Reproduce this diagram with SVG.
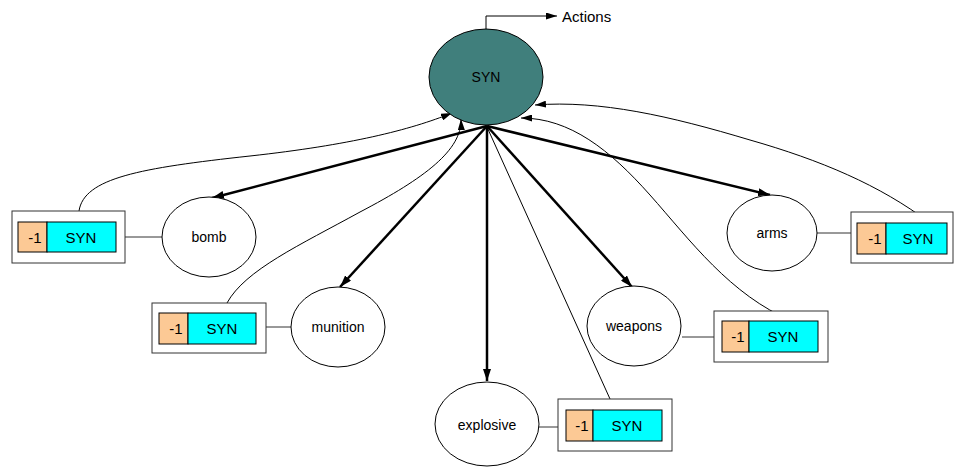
<svg xmlns="http://www.w3.org/2000/svg" width="955" height="468" viewBox="0 0 955 468">
  <defs>
    <marker id="headBig" viewBox="0 0 12 8" refX="12" refY="4" markerWidth="12" markerHeight="8" markerUnits="userSpaceOnUse" orient="auto">
      <path d="M0,0 L12,4 L0,8 Z" fill="#000"/>
    </marker>
    <marker id="headSmall" viewBox="0 0 11 7" refX="11" refY="3.5" markerWidth="11" markerHeight="7" markerUnits="userSpaceOnUse" orient="auto">
      <path d="M0,0 L11,3.5 L0,7 Z" fill="#000"/>
    </marker>
    <style>
      .lbl { font-family: "Liberation Sans", Arial, sans-serif; font-size: 14px; fill: #000; text-anchor: middle; dominant-baseline: central; }
      .unit { font-size: 15px; }
      .node { fill: #fff; stroke: #000; stroke-width: 1; }
      .hub { fill: #407f7c; stroke: #000; stroke-width: 1; }
      .frame { fill: #fff; stroke: #333; stroke-width: 1; }
      .neg { fill: #fcc995; stroke: #000; stroke-width: 1; }
      .syn { fill: #00ffff; stroke: #000; stroke-width: 1; }
      .thick { fill: none; stroke: #000; stroke-width: 2.5; marker-end: url(#headBig); }
      .thin { fill: none; stroke: #000; stroke-width: 1; }
      .back { fill: none; stroke: #000; stroke-width: 1; marker-end: url(#headSmall); }
      .tie { stroke: #333; stroke-width: 1; }
    </style>
  </defs>

  <!-- connectors -->
  <g id="connectors">
    <!-- output to Actions -->
    <path class="thin" d="M486,29 V16 H557" marker-end="url(#headSmall)"/>
    <!-- hub to words -->
    <line class="thick" x1="487" y1="126" x2="212" y2="198"/>
    <line class="thick" x1="487" y1="126" x2="340" y2="287"/>
    <line class="thick" x1="487" y1="126" x2="487" y2="381"/>
    <line class="thick" x1="487" y1="126" x2="632" y2="287"/>
    <line class="thick" x1="487" y1="126" x2="770" y2="195"/>
    <!-- feedback from SYN units to hub -->
    <path class="back" d="M79,211 C84,178 140,168 250,156 C350,145 410,130 452,113"/>
    <path class="back" d="M227,303 C245,270 300,245 360,212 C425,178 462,150 461,119"/>
    <path class="thin" d="M615,410 L487,127"/>
    <path class="back" d="M792,321 C730,295 690,240 650,195 C610,150 570,118 521,118"/>
    <path class="back" d="M930,223 C880,185 820,160 750,140 C670,116 600,100 535,105"/>
    <!-- word to unit ties -->
    <line class="tie" x1="125" y1="237" x2="163" y2="237"/>
    <line class="tie" x1="266" y1="327" x2="291" y2="327"/>
    <line class="tie" x1="539" y1="427" x2="558" y2="427"/>
    <line class="tie" x1="682" y1="337" x2="714" y2="337"/>
    <line class="tie" x1="817" y1="233" x2="851" y2="233"/>
  </g>

  <g id="hub">
    <ellipse class="hub" cx="486" cy="77" rx="57" ry="48"/>
    <text class="lbl" x="486" y="77">SYN</text>
  </g>

  <g id="actions">
    <text class="lbl" x="562" y="16" style="text-anchor:start;font-size:15px">Actions</text>
  </g>

  <g id="bomb">
    <ellipse class="node" cx="209" cy="237" rx="47" ry="40"/>
    <text class="lbl" x="209" y="237">bomb</text>
  </g>
  <g id="munition">
    <ellipse class="node" cx="338" cy="327" rx="47" ry="40"/>
    <text class="lbl" x="338" y="327">munition</text>
  </g>
  <g id="explosive">
    <ellipse class="node" cx="487" cy="424" rx="52" ry="42"/>
    <text class="lbl" x="487" y="425">explosive</text>
  </g>
  <g id="weapons">
    <ellipse class="node" cx="634" cy="326" rx="47" ry="40"/>
    <text class="lbl" x="634" y="326">weapons</text>
  </g>
  <g id="arms">
    <ellipse class="node" cx="772" cy="233" rx="45" ry="38"/>
    <text class="lbl" x="772" y="233">arms</text>
  </g>

  <g id="unit-bomb">
    <rect class="frame" x="12" y="211" width="113" height="52"/>
    <rect class="neg" x="18" y="222" width="29" height="30"/>
    <rect class="syn" x="47" y="222" width="69" height="30"/>
    <text class="lbl unit" x="35" y="237">-1</text>
    <text class="lbl unit" x="81" y="237">SYN</text>
  </g>
  <g id="unit-munition">
    <rect class="frame" x="152" y="303" width="114" height="50"/>
    <rect class="neg" x="159" y="313" width="29" height="31"/>
    <rect class="syn" x="188" y="313" width="68" height="31"/>
    <text class="lbl unit" x="176" y="328">-1</text>
    <text class="lbl unit" x="222" y="328">SYN</text>
  </g>
  <g id="unit-explosive">
    <rect class="frame" x="558" y="399" width="114" height="52"/>
    <rect class="neg" x="566" y="410" width="27" height="31"/>
    <rect class="syn" x="593" y="410" width="69" height="31"/>
    <text class="lbl unit" x="582" y="425">-1</text>
    <text class="lbl unit" x="627" y="425">SYN</text>
  </g>
  <g id="unit-weapons">
    <rect class="frame" x="714" y="311" width="114" height="51"/>
    <rect class="neg" x="722" y="321" width="27" height="31"/>
    <rect class="syn" x="749" y="321" width="69" height="31"/>
    <text class="lbl unit" x="738" y="336">-1</text>
    <text class="lbl unit" x="783" y="336">SYN</text>
  </g>
  <g id="unit-arms">
    <rect class="frame" x="851" y="212" width="102" height="51"/>
    <rect class="neg" x="857" y="223" width="29" height="31"/>
    <rect class="syn" x="886" y="223" width="61" height="31"/>
    <text class="lbl unit" x="875" y="238">-1</text>
    <text class="lbl unit" x="918" y="238">SYN</text>
  </g>
</svg>
